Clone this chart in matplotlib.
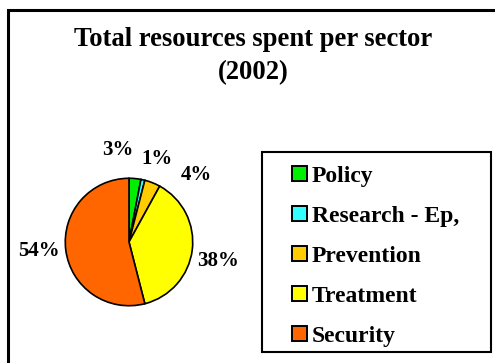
import numpy as np
import matplotlib.pyplot as plt
from matplotlib.patches import Rectangle, Patch

plt.rcParams['font.family'] = ['Liberation Serif', 'DejaVu Serif']
plt.rcParams['font.weight'] = 'bold'

# data
sectors = ['Policy', 'Research - Ep,', 'Prevention', 'Treatment', 'Security']
shares = [3, 1, 4, 38, 54]
pct_labels = ['3%', '1%', '4%', '38%', '54%']
colors = ['#00EE00', '#33FFFF', '#FFCC00', '#FFFF00', '#FF6600']

# where the percent labels sit (angle in degrees, distance in radii)
label_angle = [96.6, 71, 45, -12, 186]
label_dist = [1.46, 1.37, 1.49, 1.43, 1.42]

W, H = 495, 363
fig = plt.figure(figsize=(W / 100, H / 100), dpi=100)

# outer frame (cut off at right/bottom like the original)
fig.patches.append(Rectangle((8 / W, -0.05), 1.0, 1 - 10 / H + 0.05,
                             transform=fig.transFigure, fill=False,
                             edgecolor='black', linewidth=2.2))

fig.text(253 / W, 1 - 46 / H, 'Total resources spent per sector',
         ha='center', va='baseline', fontsize=19.2, fontweight='bold')
fig.text(253 / W, 1 - 79 / H, '(2002)',
         ha='center', va='baseline', fontsize=19.2, fontweight='bold')

cx, cy, r = 129, 242, 65
ax = fig.add_axes([(cx - r) / W, (H - cy - r) / H, 2 * r / W, 2 * r / H])
wedges, _ = ax.pie(shares, colors=colors, startangle=90, counterclock=False,
                   wedgeprops=dict(edgecolor='black', linewidth=1.2))
ax.set_aspect('equal')
ax.set_xlim(-1.02, 1.02)
ax.set_ylim(-1.02, 1.02)
ax.axis('off')

for lab, a, d in zip(pct_labels, label_angle, label_dist):
    t = np.deg2rad(a)
    ax.text(d * np.cos(t), d * np.sin(t), lab, ha='center', va='center',
            fontsize=15, fontweight='bold', clip_on=False)

# legend box
fig.patches.append(Rectangle((262 / W, 1 - 352 / H), 229 / W, 200 / H,
                             transform=fig.transFigure, fill=False,
                             edgecolor='black', linewidth=1.5))
handles = [Patch(facecolor=c, edgecolor='black', linewidth=1.4) for c in colors]
leg = fig.legend(handles, sectors, loc='upper left',
                 bbox_to_anchor=(292 / W, 1 - 166 / H),
                 frameon=False, fontsize=17, handlelength=0.62,
                 handleheight=0.62, handletextpad=0.22, labelspacing=0.8,
                 borderpad=0, borderaxespad=0)

fig.savefig('out.png', dpi=100)
